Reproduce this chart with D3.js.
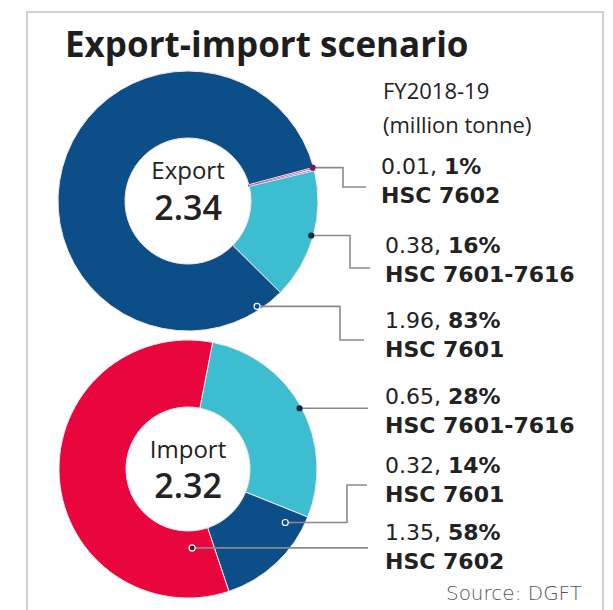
<!DOCTYPE html>
<html>
<head>
<meta charset="utf-8">
<script src="https://cdn.jsdelivr.net/npm/d3@7"></script>
<style>
  html, body { margin: 0; padding: 0; background: #fff; }
  svg { display: block; }
  text { font-family: "Open Sans", "Noto Sans", sans-serif; }
</style>
</head>
<body>
<svg id="chart" width="613" height="610"></svg>
<script>
// ---------- data ----------
const title = "Export-import scenario";
const subtitle = ["FY2018-19", "(million tonne)"];
const source = "Source: DGFT";

const exportName = "Export";
const exportTotal = "2.34";
const exportCodes = ["HSC 7602", "HSC 7601-7616", "HSC 7601"];
const exportValues = [0.01, 0.38, 1.96];
const exportPct = ["1%", "16%", "83%"];

const importName = "Import";
const importTotal = "2.32";
const importCodes = ["HSC 7601-7616", "HSC 7601", "HSC 7602"];
const importValues = [0.65, 0.32, 1.35];
const importPct = ["28%", "14%", "58%"];

// ---------- styling / layout ----------
const codeColor = d3.scaleOrdinal()
  .domain(["HSC 7601", "HSC 7601-7616", "HSC 7602"])
  .range(["#0c4f88", "#3cbdd0", "#e8063d"]);

const labelFont = '"DejaVu Sans", sans-serif';

const svg = d3.select("#chart");
const W = 613, H = 610;

// frame
svg.append("rect").attr("x", 0).attr("y", 0).attr("width", W).attr("height", H).attr("fill", "#fff");
svg.append("rect").attr("x", 27).attr("y", 12).attr("width", 576).attr("height", 620)
  .attr("fill", "none").attr("stroke", "#cfcfcf").attr("stroke-width", 2);

svg.append("text").attr("x", 65).attr("y", 57).text(title)
  .attr("font-size", 35).attr("font-weight", 700).attr("fill", "#1e1e1e");

svg.selectAll("text.sub").data(subtitle).join("text").attr("class", "sub")
  .attr("x", 383).attr("y", (d, i) => 99 + i * 34).text(d => d)
  .attr("font-size", 22).attr("fill", "#222");

svg.append("text").attr("x", 582).attr("y", 600).attr("text-anchor", "end").text(source)
  .style("font-family", labelFont).attr("font-size", 20).attr("fill", "#555").attr("font-weight", 300);

const deg = Math.PI / 180;

function donut(cfg) {
  const g = svg.append("g").attr("transform", `translate(${cfg.cx},${cfg.cy})`);
  const data = cfg.values.map((v, i) => ({ value: v, code: cfg.codes[i], pct: cfg.pct[i], i }));
  const pie = d3.pie().sort(null).value(d => d.value)
    .startAngle(cfg.start * deg).endAngle(cfg.start * deg + 2 * Math.PI);
  const arcs = pie(data);
  const arc = d3.arc().innerRadius(cfg.r0).outerRadius(cfg.r1);

  g.selectAll("path.slice").data(arcs).join("path").attr("class", "slice")
    .attr("d", arc)
    .attr("fill", d => (cfg.special && cfg.special[d.index]) ? cfg.special[d.index].fill : codeColor(d.data.code))
    .attr("stroke", d => (cfg.special && cfg.special[d.index]) ? cfg.special[d.index].stroke : "#f4e6f0")
    .attr("stroke-width", d => (cfg.special && cfg.special[d.index]) ? 1.6 : 1);

  // centre labels
  g.append("text").attr("x", 0).attr("y", cfg.nameY).attr("text-anchor", "middle")
    .text(cfg.name).attr("font-size", 24).attr("fill", "#222");
  g.append("text").attr("x", 0).attr("y", cfg.totalY).attr("text-anchor", "middle")
    .text(cfg.total).attr("font-size", 34).attr("fill", "#222").attr("font-weight", 600);

  // leaders + labels
  arcs.forEach((a, k) => {
    const L = cfg.leaders[k];
    const ang = a.startAngle + (a.endAngle - a.startAngle) * L.t;
    const px = Math.sin(ang) * L.r, py = -Math.cos(ang) * L.r;
    const ax = cfg.cx + px, ay = cfg.cy + py;
    const pts = [[ax, ay]];
    if (L.elbowX != null) {
      pts.push([L.elbowX, ay], [L.elbowX, L.endY], [L.endX, L.endY]);
    } else {
      pts.push([L.endX, ay]);
    }
    svg.append("path").attr("d", d3.line()(pts))
      .attr("fill", "none").attr("stroke", "#8a8a8a").attr("stroke-width", 1.6);
    svg.append("circle").attr("cx", ax).attr("cy", ay).attr("r", L.dot.r)
      .attr("fill", L.dot.fill).attr("stroke", L.dot.stroke).attr("stroke-width", 1.2);

    const t = svg.append("text").attr("x", L.labelX).attr("y", L.labelY)
      .style("font-family", labelFont).attr("font-size", 22).attr("fill", "#222");
    t.append("tspan").text(d3.format(".2f")(a.data.value) + ", ").attr("font-weight", 400);
    t.append("tspan").text(a.data.pct).attr("font-weight", 700);
    svg.append("text").attr("x", L.labelX).attr("y", L.labelY + 29)
      .style("font-family", labelFont).attr("font-size", 22).attr("font-weight", 700)
      .attr("fill", "#222").text(a.data.code);
  });
}

donut({
  cx: 188, cy: 201, r0: 63, r1: 130, start: 75,
  name: exportName, total: exportTotal, codes: exportCodes, values: exportValues, pct: exportPct,
  nameY: -22, totalY: 19,
  special: { 0: { fill: "#f6dcea", stroke: "#8a2c78" } },
  leaders: [
    { t: 0, r: 129, elbowX: 343, endY: 187, endX: 366, labelX: 381, labelY: 174,
      dot: { r: 2.5, fill: "#6a1f55", stroke: "#6a1f55" } },
    { t: 0.5, r: 128, elbowX: 350, endY: 268, endX: 370, labelX: 385, labelY: 253,
      dot: { r: 2.5, fill: "#0d2740", stroke: "#0d2740" } },
    { t: 0.04, r: 126, elbowX: 340, endY: 340, endX: 364, labelX: 385, labelY: 328,
      dot: { r: 3, fill: "#0c4f88", stroke: "#ffffff" } }
  ]
});

donut({
  cx: 188, cy: 469, r0: 62, r1: 129, start: 11,
  name: importName, total: importTotal, codes: importCodes, values: importValues, pct: importPct,
  nameY: -11, totalY: 29,
  leaders: [
    { t: 0.5, r: 127, elbowX: null, endX: 368, labelX: 385, labelY: 404,
      dot: { r: 2.5, fill: "#0d2740", stroke: "#0d2740" } },
    { t: 0.14, r: 111, elbowX: 347, endY: 485, endX: 367, labelX: 385, labelY: 473,
      dot: { r: 3, fill: "#0c4f88", stroke: "#ffffff" } },
    { t: 0.074, r: 79, elbowX: null, endX: 368, labelX: 385, labelY: 540,
      dot: { r: 3, fill: "#5a0a20", stroke: "#ffffff" } }
  ]
});
</script>
</body>
</html>
